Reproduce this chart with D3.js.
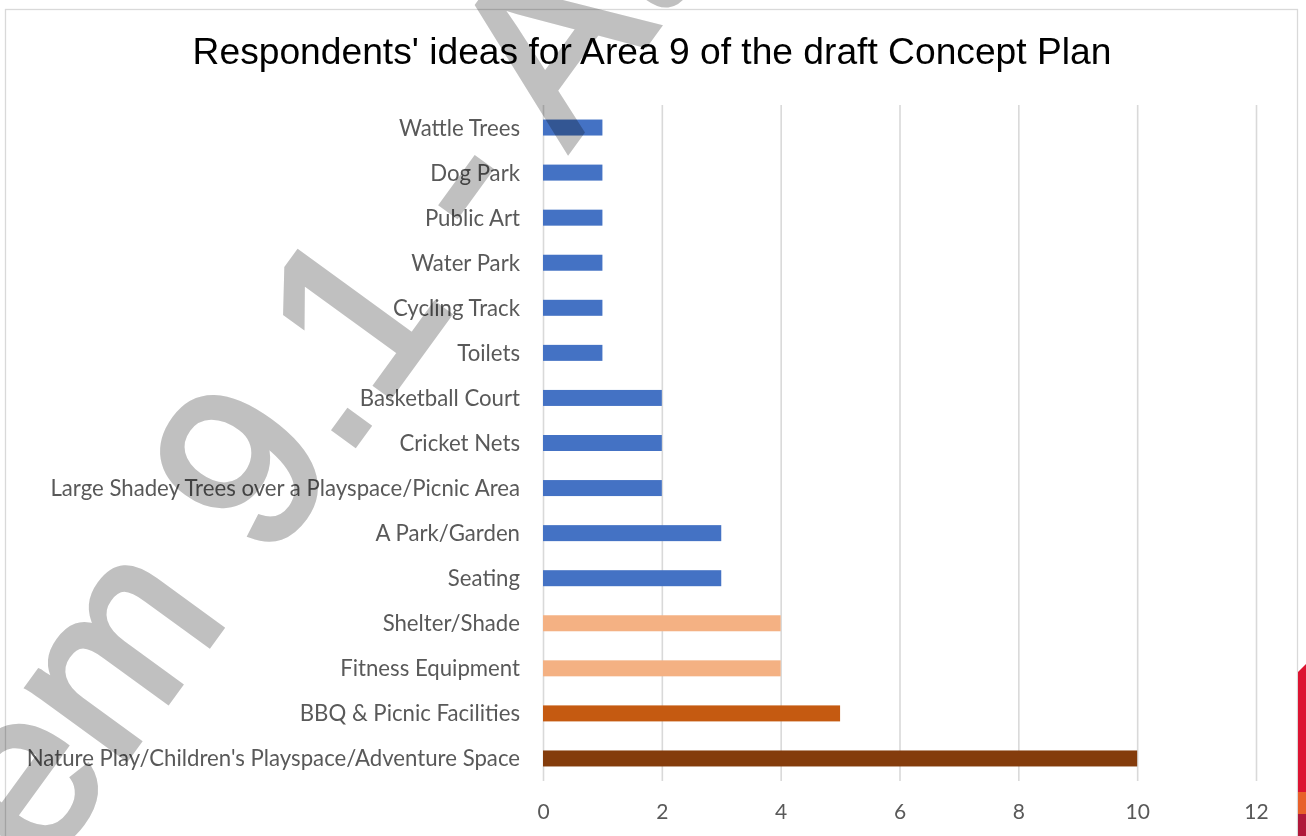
<!DOCTYPE html>
<html>
<head>
<meta charset="utf-8">
<script src="https://cdn.jsdelivr.net/npm/d3@7"></script>
<style>
  html, body { margin: 0; padding: 0; background: #ffffff; }
  svg { display: block; }
</style>
</head>
<body>
<svg id="chart" width="1306" height="836"></svg>
<script>
// Ideas collected for Area 9, listed top to bottom
const categories = [
  "Wattle Trees",
  "Dog Park",
  "Public Art",
  "Water Park",
  "Cycling Track",
  "Toilets",
  "Basketball Court",
  "Cricket Nets",
  "Large Shadey Trees over a Playspace/Picnic Area",
  "A Park/Garden",
  "Seating",
  "Shelter/Shade",
  "Fitness Equipment",
  "BBQ & Picnic Facilities",
  "Nature Play/Children's Playspace/Adventure Space"
];
const counts = [1, 1, 1, 1, 1, 1, 2, 2, 2, 3, 3, 4, 4, 5, 10];
const barColors = [
  "#4472C4", "#4472C4", "#4472C4", "#4472C4", "#4472C4", "#4472C4",
  "#4472C4", "#4472C4", "#4472C4", "#4472C4", "#4472C4",
  "#F4B183", "#F4B183", "#C55A11", "#843C0C"
];
const xTicks = [0, 2, 4, 6, 8, 10, 12];
const titleText = "Respondents' ideas for Area 9 of the draft Concept Plan";
const stampText = "Item 9.1 - Attachment";

const svg = d3.select("#chart");
const plot = { left: 543, right: 1256, top: 105, bottom: 781 };
const labelFont = "Lato, 'Open Sans', sans-serif";

// chart frame
svg.append("rect")
  .attr("x", 5.5).attr("y", 9.5)
  .attr("width", 1292).attr("height", 840)
  .attr("fill", "#ffffff")
  .attr("stroke", "#d9d9d9").attr("stroke-width", 1.3);

const x = d3.scaleLinear().domain([0, 12]).range([plot.left, plot.right]);
const y = d3.scaleBand().domain(categories).range([plot.top, plot.bottom])
  .paddingInner(0.645).paddingOuter(0.3225);

// vertical gridlines and value ticks
const xAxis = d3.axisBottom(x).tickValues(xTicks)
  .tickSize(-(plot.bottom - plot.top)).tickPadding(23);
const gx = svg.append("g").attr("transform", `translate(0,${plot.bottom})`).call(xAxis);
gx.select(".domain").remove();
gx.selectAll(".tick line").attr("stroke", "#d9d9d9").attr("stroke-width", 1.6);
gx.selectAll(".tick text")
  .attr("fill", "#595959")
  .attr("font-family", labelFont)
  .attr("font-size", 21)
  .attr("dy", "0.71em");

// category labels
const yAxis = d3.axisLeft(y).tickSize(0).tickPadding(23);
const gy = svg.append("g").attr("transform", `translate(${plot.left},0)`).call(yAxis);
gy.select(".domain").remove();
gy.selectAll(".tick text")
  .attr("fill", "#595959")
  .attr("font-family", labelFont)
  .attr("font-size", 22.2)
  .attr("dy", "0.36em");

// bars
svg.append("g").selectAll("rect")
  .data(categories)
  .join("rect")
  .attr("x", x(0))
  .attr("y", d => y(d))
  .attr("width", (d, i) => x(counts[i]) - x(0))
  .attr("height", y.bandwidth())
  .attr("fill", (d, i) => barColors[i]);

// title
svg.append("text")
  .attr("x", 652).attr("y", 64)
  .attr("text-anchor", "middle")
  .attr("font-family", "'Liberation Sans', Arial, sans-serif")
  .attr("font-size", 37.2)
  .attr("fill", "#000000")
  .text(titleText);

// diagonal document stamp laid over the page
svg.append("text")
  .attr("transform", "translate(-33,978) rotate(-54)")
  .attr("font-family", "'Liberation Sans', Arial, sans-serif")
  .attr("font-size", 230)
  .attr("fill", "#c0c0c0")
  .attr("stroke", "#c0c0c0")
  .attr("stroke-width", 6)
  .style("mix-blend-mode", "multiply")
  .text(stampText);

// edge of the neighbouring page graphic
const edge = svg.append("g");
edge.append("path")
  .attr("d", "M1298,672 L1306,664 L1306,836 L1298,836 Z")
  .attr("fill", "#dc1431");
edge.append("rect")
  .attr("x", 1298).attr("y", 792).attr("width", 8).attr("height", 22)
  .attr("fill", "#e8602a");
edge.append("rect")
  .attr("x", 1298).attr("y", 814).attr("width", 8).attr("height", 22)
  .attr("fill", "#b0183a");
</script>
</body>
</html>
